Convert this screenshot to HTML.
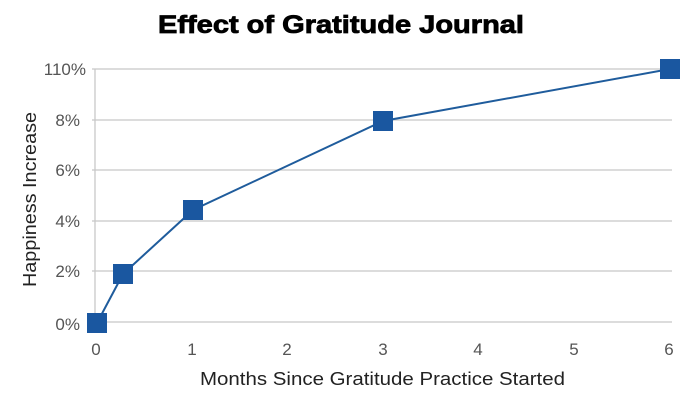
<!DOCTYPE html>
<html><head><style>
body{margin:0;background:#fff;}
svg text{font-family:"Liberation Sans",sans-serif;}
</style></head><body>
<svg width="700" height="400" xmlns="http://www.w3.org/2000/svg">
<rect width="700" height="400" fill="#fff"/>
<text x="158" y="33" font-size="25" font-weight="bold" fill="#000" stroke="#000" stroke-width="0.8" textLength="366" lengthAdjust="spacingAndGlyphs">Effect of Gratitude Journal</text>
<g stroke="#c8c8c8" stroke-width="1.3">
<line x1="92" x2="672" y1="69" y2="69"/>
<line x1="92" x2="672" y1="120" y2="120"/>
<line x1="92" x2="672" y1="170" y2="170"/>
<line x1="92" x2="672" y1="221" y2="221"/>
<line x1="92" x2="672" y1="271" y2="271"/>
<line x1="92" x2="672" y1="322" y2="322"/>
<line x1="95" x2="95" y1="69" y2="322"/>
</g>
<g font-size="17" fill="#555" text-anchor="end">
<text x="86" y="75">110%</text>
<text x="80" y="126">8%</text>
<text x="80" y="176">6%</text>
<text x="80" y="227">4%</text>
<text x="80" y="277">2%</text>
<text x="80" y="330">0%</text>
</g>
<g font-size="17" fill="#555" text-anchor="middle">
<text x="96" y="355">0</text>
<text x="192" y="355">1</text>
<text x="287" y="355">2</text>
<text x="383" y="355">3</text>
<text x="478" y="355">4</text>
<text x="574" y="355">5</text>
<text x="669" y="355">6</text>
</g>
<text x="200" y="385" font-size="18" fill="#222" textLength="365" lengthAdjust="spacingAndGlyphs">Months Since Gratitude Practice Started</text>
<text transform="translate(36,287) rotate(-90)" font-size="18" fill="#222" textLength="175" lengthAdjust="spacingAndGlyphs">Happiness Increase</text>
<polyline points="97,323 123,274 193,210 383,121 670,69" fill="none" stroke="#1f5c9c" stroke-width="2"/>
<g fill="#1a57a0">
<rect x="87" y="313" width="20" height="20"/>
<rect x="113" y="264" width="20" height="20"/>
<rect x="183" y="200" width="20" height="20"/>
<rect x="373" y="111" width="20" height="20"/>
<rect x="660" y="59" width="20" height="20"/>
</g>
</svg>
</body></html>
